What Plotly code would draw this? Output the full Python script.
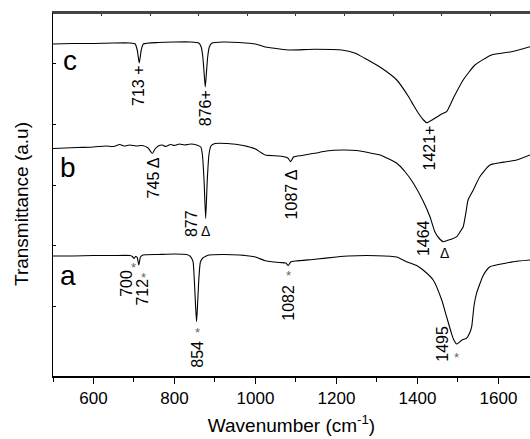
import plotly.graph_objects as go

# ---------------- data (wavenumber in cm^-1, transmittance in a.u., offset spectra) -------------
wn_c = [500, 550, 600, 650, 690, 703, 708, 713, 718, 723, 760, 800, 840, 860, 866, 870, 873, 876,
        879, 882, 886, 893, 920, 960, 1000, 1024, 1060, 1085, 1147, 1213, 1245, 1270, 1312, 1349,
        1377, 1390, 1402, 1415, 1423, 1440, 1460, 1472, 1490, 1513, 1542, 1583, 1632, 1678]
tr_c = [3.32, 3.325, 3.325, 3.33, 3.33, 3.32, 3.26, 3.13, 3.26, 3.32, 3.335, 3.34, 3.34, 3.33, 3.29,
        3.19, 3.04, 2.89, 3.04, 3.19, 3.29, 3.33, 3.34, 3.335, 3.32, 3.29, 3.27, 3.26, 3.267, 3.26,
        3.23, 3.177, 3.077, 2.96, 2.80, 2.71, 2.63, 2.56, 2.533, 2.57, 2.62, 2.643, 2.79, 2.96,
        3.11, 3.21, 3.243, 3.293]

wn_b = [500, 530, 560, 600, 630, 650, 665, 675, 690, 705, 720, 735, 745, 752, 760, 770, 778, 790,
        800, 812, 825, 840, 855, 865, 869, 873, 877, 881, 885, 890, 900, 930, 970, 1000, 1024, 1060,
        1080, 1087, 1094, 1115, 1135, 1150, 1175, 1215, 1250, 1290, 1308, 1349, 1370, 1390, 1414,
        1431, 1443, 1455, 1464, 1472, 1485, 1497, 1505, 1513, 1520, 1525, 1538, 1554, 1579, 1620,
        1645, 1678]
tr_b = [2.275, 2.28, 2.285, 2.29, 2.30, 2.295, 2.315, 2.30, 2.31, 2.30, 2.305, 2.28, 2.225, 2.27,
        2.30, 2.31, 2.295, 2.315, 2.305, 2.32, 2.31, 2.32, 2.31, 2.29, 2.21, 1.96, 1.575, 1.96, 2.21,
        2.30, 2.325, 2.325, 2.305, 2.27, 2.21, 2.20, 2.18, 2.143, 2.19, 2.205, 2.22, 2.23, 2.25,
        2.26, 2.255, 2.225, 2.21, 2.127, 2.04, 1.927, 1.75, 1.593, 1.443, 1.37, 1.343, 1.353, 1.37,
        1.393, 1.44, 1.493, 1.64, 1.76, 1.86, 1.993, 2.11, 2.143, 2.16, 2.21]

wn_a = [500, 550, 600, 650, 690, 696, 700, 704, 708, 712, 716, 722, 760, 800, 830, 838, 842, 846,
        849, 852, 854.5, 857, 860, 864, 870, 876, 885, 920, 960, 1000, 1024, 1060, 1075, 1081, 1087,
        1100, 1147, 1200, 1229, 1300, 1349, 1373, 1400, 1414, 1439, 1460, 1472, 1484, 1490, 1497,
        1510, 1521, 1530, 1534, 1540, 1546, 1563, 1579, 1620, 1637, 1678]
tr_a = [1.20, 1.20, 1.205, 1.205, 1.205, 1.195, 1.175, 1.195, 1.185, 1.11, 1.19, 1.21, 1.215, 1.22,
        1.215, 1.20, 1.18, 1.14, 0.96, 0.71, 0.543, 0.71, 0.96, 1.14, 1.18, 1.195, 1.21, 1.215, 1.21,
        1.19, 1.153, 1.135, 1.13, 1.105, 1.14, 1.15, 1.167, 1.19, 1.20, 1.203, 1.19, 1.143, 1.10,
        1.06, 0.96, 0.76, 0.593, 0.427, 0.36, 0.32, 0.36, 0.377, 0.44, 0.493, 0.71, 0.827, 1.01,
        1.093, 1.13, 1.143, 1.16]

x_ticks = [600, 800, 1000, 1200, 1400, 1600]
x_minor = [500, 700, 900, 1100, 1300, 1500]
top_ticks = [620, 740, 860, 980, 1100, 1220, 1340, 1460, 1580]
y_ticks = [0.70, 1.31, 1.91, 2.52, 3.13]

# peak labels: text, wavenumber, transmittance, angle
peak_text = ["713 +", "876+", "1421+", "745 \u0394", "877", "\u0394", "1087 \u0394", "1464", "\u0394",
             "700", "*", "712", "*", "854", "*", "1082", "*", "1495", "*"]
peak_x = [711, 876, 1431, 748, 841, 876, 1090, 1414, 1468,
          681, 699, 720, 723, 855, 856, 1081, 1081, 1460, 1497]
peak_y = [2.905, 2.68, 2.285, 1.98, 1.52, 1.45, 1.815, 1.38, 1.23,
          0.925, 1.09, 0.835, 0.99, 0.22, 0.44, 0.735, 1.01, 0.32, 0.19]
peak_angle = [-90, -90, -90, -90, -90, 0, -90, -90, 0,
              -90, 0, -90, 0, -90, 0, -90, 0, -90, 0]

curve_names = ["c", "b", "a"]
curve_name_x = [541, 538, 538]
curve_name_y = [3.16, 2.09, 1.01]

FONT = "Liberation Sans, Arial, sans-serif"

fig = go.Figure()
for i, (wn, tr) in enumerate([(wn_c, tr_c), (wn_b, tr_b), (wn_a, tr_a)]):
    fig.add_trace(go.Scatter(x=wn, y=tr, mode="lines", xaxis="x2" if i == 0 else "x",
                             line=dict(color="black", width=1.1, shape="spline", smoothing=0.5),
                             showlegend=False, hoverinfo="skip"))

annotations = []
for t, x, y, a in zip(peak_text, peak_x, peak_y, peak_angle):
    is_star = t == "*"
    annotations.append(dict(
        text=t, x=x, y=y, xref="x", yref="y", showarrow=False, textangle=a,
        xanchor="center", yanchor="middle",
        font=dict(family=FONT, size=13 if is_star else (14 if t == "\u0394" else 16),
                  color="#666666" if is_star else "black")))
for t, x, y in zip(curve_names, curve_name_x, curve_name_y):
    annotations.append(dict(text=t, x=x, y=y, xref="x", yref="y", showarrow=False,
                            xanchor="center", yanchor="middle",
                            font=dict(family=FONT, size=28, color="black")))
annotations.append(dict(text="Transmittance (a.u)", x=(21 - 53) / 477, y=(439 - 63 - 204) / 363,
                        xref="paper", yref="paper",
                        showarrow=False, textangle=-90, xanchor="center", yanchor="middle",
                        font=dict(family=FONT, size=19, color="black")))

fig.update_layout(
    width=530, height=439,
    margin=dict(l=53, r=0, t=13, b=63),
    paper_bgcolor="white", plot_bgcolor="white",
    font=dict(family=FONT, color="black"),
    xaxis=dict(range=[500, 1678], tickvals=x_ticks, ticks="outside", ticklen=6, tickwidth=1,
               tickcolor="black", showline=True, linecolor="black", linewidth=1.5,
               showgrid=False, zeroline=False, tickfont=dict(size=17, family=FONT),
               minor=dict(tickvals=x_minor, ticks="outside",
                          ticklen=4, tickcolor="black", showgrid=False),
               title=dict(text="Wavenumber (cm<sup>-1</sup>)", font=dict(size=19, family=FONT),
                          standoff=12)),
    xaxis2=dict(range=[500, 1678], overlaying="x", side="top", anchor="y", tickvals=top_ticks,
                ticks="inside", ticklen=3, tickwidth=1, tickcolor="#333", showticklabels=False,
                showline=True, linecolor="#444", linewidth=2, showgrid=False, zeroline=False),
    yaxis=dict(range=[0, 3.63], tickvals=y_ticks, ticks="inside", ticklen=3, tickcolor="black",
               showticklabels=False, showline=True, linecolor="black", linewidth=1,
               showgrid=False, zeroline=False),
    shapes=[dict(type="line", xref="paper", yref="paper", x0=0, x1=1, y0=1, y1=1,
                 line=dict(color="#444", width=2), layer="above")],
    annotations=annotations,
)

fig.write_html("out.html", config={"displayModeBar": False},
               post_script="document.body.style.margin='0px';")
